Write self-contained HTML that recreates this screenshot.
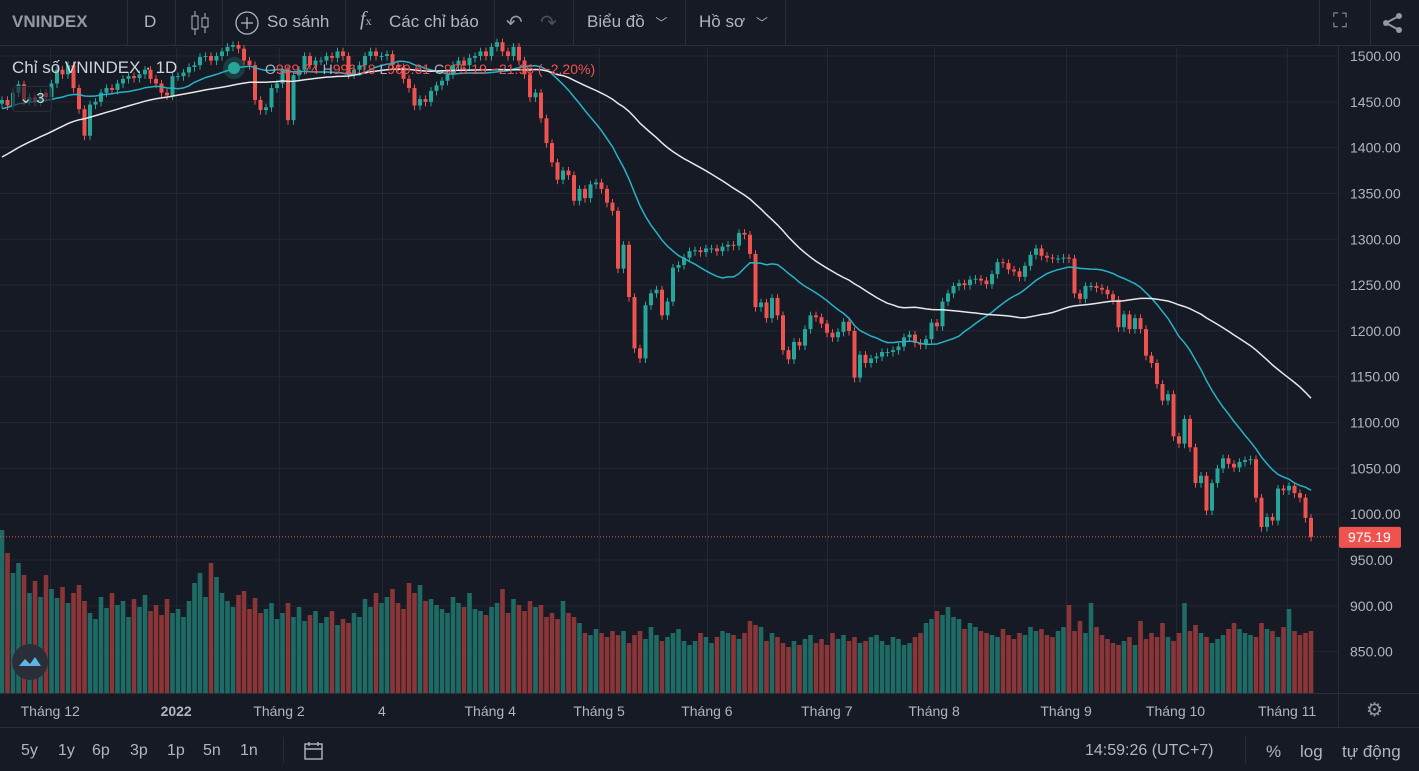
<!DOCTYPE html>
<html><head><meta charset="utf-8">
<style>
html,body{margin:0;padding:0;background:#161a25;overflow:hidden}
body{width:1419px;height:771px;position:relative;font-family:"Liberation Sans",sans-serif;color:#b2b5be}
.t{position:absolute;white-space:nowrap}
.sep{position:absolute;top:0;width:1px;height:46px;background:#2a2e39}
.bsep{position:absolute;top:737px;width:1px;height:26px;background:#2a2e39}
</style></head>
<body>
<div style="position:absolute;left:0;top:0;width:1419px;height:46px;border-bottom:1px solid #2a2e39;box-sizing:border-box"></div>
<div class="t" style="left:12px;top:12px;font-size:17px;font-weight:bold;color:#9598a1">VNINDEX</div>
<div class="sep" style="left:127px"></div>
<div class="t" style="left:144px;top:12px;font-size:17px;color:#b2b5be">D</div>
<div class="sep" style="left:175px"></div>
<svg class="t" style="left:188px;top:9px" width="24" height="28"><line x1="7" y1="2" x2="7" y2="26" stroke="#b2b5be"/><rect x="4" y="7" width="6" height="13" fill="#161a25" stroke="#b2b5be"/><line x1="17" y1="4" x2="17" y2="24" stroke="#b2b5be"/><rect x="14" y="9" width="6" height="9" fill="#161a25" stroke="#b2b5be"/></svg>
<div class="sep" style="left:222px"></div>
<svg class="t" style="left:234px;top:10px" width="26" height="26"><circle cx="13" cy="13" r="11" fill="none" stroke="#b2b5be" stroke-width="1.3"/><line x1="13" y1="7" x2="13" y2="19" stroke="#b2b5be" stroke-width="1.3"/><line x1="7" y1="13" x2="19" y2="13" stroke="#b2b5be" stroke-width="1.3"/></svg>
<div class="t" style="left:267px;top:12px;font-size:17px">So sánh</div>
<div class="sep" style="left:345px"></div>
<div class="t" style="left:360px;top:8px;font-size:20px;font-style:italic;font-family:'Liberation Serif',serif">f<span style="font-size:12px;font-style:normal">x</span></div>
<div class="t" style="left:389px;top:12px;font-size:17px">Các chỉ báo</div>
<div class="sep" style="left:494px"></div>
<div class="t" style="left:506px;top:10px;font-size:20px;color:#9598a1">↶</div>
<div class="t" style="left:540px;top:10px;font-size:20px;color:#4a4e59">↷</div>
<div class="sep" style="left:573px"></div>
<div class="t" style="left:587px;top:12px;font-size:17px">Biểu đồ <span style="font-size:12px;margin-left:6px">﹀</span></div>
<div class="sep" style="left:685px"></div>
<div class="t" style="left:699px;top:12px;font-size:17px">Hồ sơ <span style="font-size:12px;margin-left:6px">﹀</span></div>
<div class="sep" style="left:785px"></div>
<div class="sep" style="left:1319px"></div>
<div class="t" style="left:1333px;top:10px;font-size:20px;color:#9598a1">⛶</div>
<div class="sep" style="left:1370px"></div>
<svg class="t" style="left:1382px;top:12px" width="22" height="22"><circle cx="17" cy="4" r="3" fill="#9598a1"/><circle cx="4" cy="11" r="3" fill="#9598a1"/><circle cx="17" cy="18" r="3" fill="#9598a1"/><line x1="17" y1="4" x2="4" y2="11" stroke="#9598a1" stroke-width="2"/><line x1="4" y1="11" x2="17" y2="18" stroke="#9598a1" stroke-width="2"/></svg>

<svg id="chart" style="position:absolute;left:0;top:0" width="1419" height="771"></svg>

<div class="t" style="left:12px;top:58px;font-size:17px;color:#d1d4dc">Chỉ số VNINDEX · 1D</div>
<div style="position:absolute;left:228px;top:62px;width:12px;height:12px;border-radius:6px;background:#26a69a;box-shadow:0 0 0 5px rgba(38,166,154,0.25)"></div>
<div class="t" style="left:265px;top:61px;font-size:14px;color:#ef5350"><span style="color:#b2b5be">O</span>989.74 <span style="color:#b2b5be">H</span>996.18 <span style="color:#b2b5be">L</span>969.61 <span style="color:#b2b5be">C</span>975.19 −21.96 (−2.20%)</div>
<div class="t" style="left:12px;top:86px;width:38px;height:24px;border:1px solid #2a2e39;border-radius:4px;font-size:15px;color:#d1d4dc;text-align:center;line-height:24px;background:rgba(22,26,37,0.6)">⌄ 3</div>
<div style="position:absolute;left:12px;top:644px;width:36px;height:36px;border-radius:18px;background:#2a2e39"><svg width="36" height="36"><path d="M7 22 L13 15 L18 20 L23 13 L29 22 Z" fill="#5fb4e6"/></svg></div>

<div class="t" style="left:1366px;top:699px;font-size:19px;color:#9598a1">⚙</div>

<div style="position:absolute;left:0;top:727px;width:1419px;height:1px;background:#2a2e39"></div>
<div class="t" style="left:21px;top:742px;font-size:16px">5y</div>
<div class="t" style="left:58px;top:742px;font-size:16px">1y</div>
<div class="t" style="left:92px;top:742px;font-size:16px">6p</div>
<div class="t" style="left:130px;top:742px;font-size:16px">3p</div>
<div class="t" style="left:167px;top:742px;font-size:16px">1p</div>
<div class="t" style="left:203px;top:742px;font-size:16px">5n</div>
<div class="t" style="left:240px;top:742px;font-size:16px">1n</div>
<div class="bsep" style="left:283px"></div>
<svg class="t" style="left:303px;top:741px" width="22" height="20"><rect x="2" y="3" width="17" height="15" fill="none" stroke="#b2b5be" stroke-width="1.4"/><line x1="2" y1="8" x2="19" y2="8" stroke="#b2b5be" stroke-width="1.4"/><line x1="6" y1="1" x2="6" y2="5" stroke="#b2b5be" stroke-width="1.4"/><line x1="15" y1="1" x2="15" y2="5" stroke="#b2b5be" stroke-width="1.4"/></svg>
<div class="t" style="left:1085px;top:742px;font-size:16px">14:59:26 (UTC+7)</div>
<div class="bsep" style="left:1245px"></div>
<div class="t" style="left:1266px;top:742px;font-size:17px">%</div>
<div class="t" style="left:1300px;top:742px;font-size:17px">log</div>
<div class="t" style="left:1342px;top:742px;font-size:17px">tự động</div>

<script>
const priorCloses=[1280,1285,1290,1298,1305,1310,1315,1322,1328,1332,1338,1342,1348,1352,1358,1362,1365,1370,1374,1378,1382,1385,1388,1392,1396,1400,1404,1408,1412,1416,1420,1424,1428,1432,1436,1440,1442,1445,1450,1455,1458,1452,1448,1442,1446,1450,1445,1440,1448];
const closes=[1452,1446,1460,1469,1451,1455,1450,1460,1455,1470,1485,1480,1490,1465,1442,1413,1447,1450,1460,1465,1463,1470,1475,1478,1476,1480,1485,1475,1470,1460,1457,1478,1478,1482,1488,1490,1499,1500,1495,1500,1505,1510,1512,1508,1495,1490,1452,1441,1444,1465,1470,1485,1430,1479,1485,1500,1490,1495,1495,1500,1498,1505,1500,1480,1485,1490,1500,1505,1500,1500,1502,1490,1488,1475,1465,1446,1453,1450,1462,1468,1473,1480,1490,1495,1490,1498,1500,1505,1500,1510,1515,1505,1500,1510,1495,1480,1455,
1460,1432,1405,1384,1365,1375,1370,1342,1355,1345,1360,1362,1355,1340,1331,1268,1294,1237,1181,1170,1228,1241,1245,1217,1232,1269,1272,1280,1287,1288,1286,1290,1290,1287,1292,1294,1293,1307,1305,1284,
1226,1231,1214,1236,1217,1179,1169,1188,1184,1202,1217,1215,1208,1198,1193,1199,1210,1200,1149,1174,1165,1170,1172,
1177,1177,1179,1183,1193,1196,1187,1185,1191,1209,1205,1232,1241,1249,1252,1250,1256,1257,1255,1251,1262,1275,1274,1267,1265,1259,1271,1283,1290,1282,1280,1279,1279,1280,1279,1241,1235,1249,1249,1247,1245,1240,1234,1204,1218,1202,1214,1202,1173,1165,1142,1124,1131,1085,1077,1104,1073,1034,1042,1004,1034,1050,1061,1055,1051,1057,1059,1060,1018,986,997,993,1028,1026,1031,1023,1018,996,975.19];
const volumes=[163,140,120,130,118,100,112,96,118,104,95,106,90,100,108,92,80,74,96,85,100,88,92,76,94,86,98,82,88,78,94,80,84,76,92,110,120,96,130,116,100,92,86,98,102,84,95,80,84,90,74,80,90,76,86,72,78,82,70,76,82,68,74,70,80,76,94,86,100,90,96,104,90,84,110,100,108,92,94,88,84,80,96,90,86,100,84,82,78,86,90,104,80,94,88,82,
92,86,88,76,80,74,92,80,76,70,60,58,64,60,56,62,58,62,50,58,62,54,66,58,52,56,60,64,52,48,52,60,56,50,56,62,60,58,54,60,
72,68,66,52,60,56,50,46,52,48,54,58,50,54,48,60,54,58,52,56,50,52,56,
58,52,48,56,54,48,50,56,60,70,74,82,78,86,76,74,64,70,66,62,60,58,56,64,58,54,60,58,66,62,64,58,56,62,66,88,62,72,60,90,66,58,54,50,48,52,56,48,72,54,60,56,70,56,52,60,90,62,68,60,56,50,54,58,64,70,64,60,58,56,70,64,62,56,66,84,62,58,60,62,88,62];
const priceTicks=[1500,1450,1400,1350,1300,1250,1200,1150,1100,1050,1000,950,900,850];
const monthLabels=["Tháng 12","2022","Tháng 2","4","Tháng 4","Tháng 5","Tháng 6","Tháng 7","Tháng 8","Tháng 9","Tháng 10","Tháng 11"];
const monthIdx=[8.4,31.3,50,68.7,88.4,108.2,127.8,149.6,169.1,193.1,213,233.3];
const lastPrice=975.19;

const svg=document.getElementById('chart');
const NS='http://www.w3.org/2000/svg';
function mk(tag,attrs,parent){const e=document.createElementNS(NS,tag);for(const k in attrs)e.setAttribute(k,attrs[k]);(parent||svg).appendChild(e);return e;}
const N=closes.length, X1=1311, step=5.5, X0=X1-(N-1)*step;
const xI=i=>X0+i*step;
const xL=i=>4+i*5.5;
const yP=p=>56+(1500-p)*0.9164;
const yV=v=>693-v*1.0;

const grid=mk('g',{});


priceTicks.forEach(p=>{mk('line',{x1:0,x2:1338,y1:yP(p),y2:yP(p),stroke:'#232733','stroke-width':1},grid);});
monthIdx.forEach(i=>{const x=Math.round(xL(i))+0.5;mk('line',{x1:x,x2:x,y1:47,y2:693,stroke:'#232733','stroke-width':1},grid);});
mk('line',{x1:1338.5,x2:1338.5,y1:46,y2:727,stroke:'#2a2e39'});
mk('line',{x1:0,x2:1419,y1:693.5,y2:693.5,stroke:'#2a2e39'});
priceTicks.forEach(p=>{const t=mk('text',{x:1350,y:yP(p)+5,fill:'#b2b5be','font-size':14,'font-family':'Liberation Sans, sans-serif'});


t.textContent=p.toFixed(2);});
monthLabels.forEach((m,k)=>{const t=mk('text',{x:xL(monthIdx[k]),y:716,fill:'#b2b5be','font-size':14,'text-anchor':'middle','font-family':'Liberation Sans, sans-serif','font-weight':m==='2022'?'bold':'normal'});


t.textContent=m;});

const vg=mk('g',{});


for(let i=0;i<N;i++){
  const o=i?closes[i-1]:priorCloses[priorCloses.length-1];
  const up=closes[i]>=o;
  const v=volumes[i]!==undefined?volumes[i]:60;
  const r=mk('rect',{x:xI(i)-2.3,y:yV(v),width:4.6,height:693-yV(v),fill:up?'#1e6b66':'#8a3538'},vg);
  
  
}
const cg=mk('g',{});


for(let i=0;i<N;i++){
  const o=i?closes[i-1]:priorCloses[priorCloses.length-1];
  const c=closes[i];
  const up=c>=o;const col=up?'#26a69a':'#ef5350';
  const hi=Math.max(o,c)+4, lo=Math.min(o,c)-5;
  const x=xI(i);
  const w=mk('line',{x1:x,x2:x,y1:yP(hi),y2:yP(lo),stroke:col,'stroke-width':1},cg);
  
  
  const yt=yP(Math.max(o,c)), yb=yP(Math.min(o,c));
  const b=mk('rect',{x:x-2,y:yt,width:4,height:Math.max(1,yb-yt),fill:col},cg);
  
  
}
const all=priorCloses.concat(closes), off=priorCloses.length;
function ma(n){const pts=[];for(let i=0;i<N;i++){let s=0;for(let k=0;k<n;k++)s+=all[off+i-k];pts.push(xI(i).toFixed(1)+','+yP(s/n).toFixed(1));}return pts.join(' ');}
const m20=mk('polyline',{points:ma(20),fill:'none',stroke:'#26b3c6','stroke-width':1.5});


const m50=mk('polyline',{points:ma(50),fill:'none',stroke:'#e8e8e8','stroke-width':1.5});


const lp=mk('line',{x1:0,x2:1338,y1:yP(lastPrice),y2:yP(lastPrice),stroke:'#ef5350','stroke-width':1,'stroke-dasharray':'1,2'});


const lb=mk('rect',{x:1339,y:yP(lastPrice)-10,width:62,height:21,fill:'#ef5350',rx:2});


const lt=mk('text',{x:1348,y:yP(lastPrice)+5,fill:'#ffffff','font-size':14,'font-family':'Liberation Sans, sans-serif'});


lt.textContent=lastPrice.toFixed(2);
</script>
</body></html>
